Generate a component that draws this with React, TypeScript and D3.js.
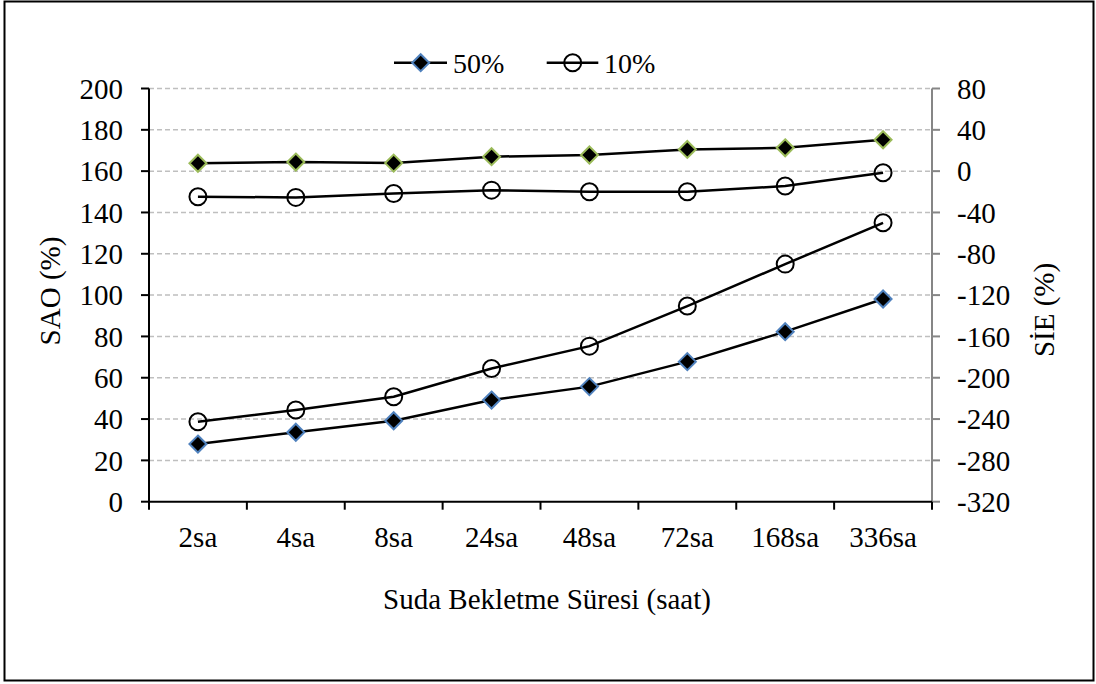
import React from "react";
import * as d3 from "d3";

const categories = ["2sa", "4sa", "8sa", "24sa", "48sa", "72sa", "168sa", "336sa"];
const sao50 = [27.9, 33.6, 39.2, 49.2, 55.7, 67.8, 82.3, 98.1];
const sao10 = [38.7, 44.4, 50.8, 64.5, 75.3, 94.7, 115.0, 135.0];
const sie50 = [7.6, 8.8, 7.8, 14.0, 15.6, 21.0, 22.6, 30.4];
const sie10 = [-24.8, -25.4, -21.6, -18.4, -20.0, -20.0, -14.4, -1.6];
const leftTicks = [0, 20, 40, 60, 80, 100, 120, 140, 160, 180, 200];
const rightTicks = [-320, -280, -240, -200, -160, -120, -80, -40, 0, 40, 80];
const legendLabels = ["50%", "10%"];

const W = 1096;
const H = 684;
const FONT = "Liberation Serif";
const FS = 29;

export default function App() {
  const x0 = 149, x1 = 932, yTop = 88.5, yBot = 501.7;
  const x = d3.scaleBand<string>().domain(categories).range([x0, x1]);
  const yL = d3.scaleLinear().domain([0, 200]).range([yBot, yTop]);
  const yR = d3.scaleLinear().domain([-320, 80]).range([yBot, yTop]);
  const cx = (c: string) => (x(c) as number) + x.bandwidth() / 2;
  const line = (vals: number[], sc: d3.ScaleLinear<number, number>) =>
    d3.line<number>().x((_, i) => cx(categories[i])).y((v) => sc(v))(vals) as string;
  const r = 8.5;
  const diamond = `M0,${-r}L${r},0L0,${r}L${-r},0Z`;

  const diamonds = (vals: number[], sc: d3.ScaleLinear<number, number>, stroke: string, key: string) =>
    vals.map((v, i) => (
      <path key={key + i} d={diamond} transform={`translate(${cx(categories[i])},${sc(v)})`} fill="#000" stroke={stroke} strokeWidth={2} />
    ));
  const circles = (vals: number[], sc: d3.ScaleLinear<number, number>, key: string) =>
    vals.map((v, i) => (
      <circle key={key + i} cx={cx(categories[i])} cy={sc(v)} r={8.5} fill="none" stroke="#000" strokeWidth={2} />
    ));

  return (
    <svg width={W} height={H} style={{ position: "absolute", left: 0, top: 0 }}>
      <rect x={0} y={0} width={W} height={H} fill="#fff" />
      <rect x={4.5} y={1.5} width={1089} height={679} fill="none" stroke="#000" strokeWidth={2} />
      {leftTicks.filter((t) => t > 0).map((t) => (
        <line key={"g" + t} x1={x0} x2={x1} y1={yL(t)} y2={yL(t)} stroke="#bfbfbf" strokeWidth={1.5} strokeDasharray="5,3" />
      ))}
      <g fontFamily={FONT} fontSize={FS} fill="#000">
        <line x1={x0} x2={x0} y1={yTop} y2={yBot} stroke="#000" strokeWidth={2} />
        {leftTicks.map((t) => (
          <g key={"l" + t}>
            <line x1={x0 - 8} x2={x0} y1={yL(t)} y2={yL(t)} stroke="#000" strokeWidth={2} />
            <text x={123} y={yL(t)} dy="0.35em" textAnchor="end">{t}</text>
          </g>
        ))}
        <line x1={x1} x2={x1} y1={yTop} y2={yBot} stroke="#868686" strokeWidth={2} />
        {rightTicks.map((t) => (
          <g key={"r" + t}>
            <line x1={x1} x2={x1 + 8} y1={yR(t)} y2={yR(t)} stroke="#868686" strokeWidth={2} />
            <text x={957} y={yR(t)} dy="0.35em" textAnchor="start">{t}</text>
          </g>
        ))}
        <line x1={x0} x2={x1} y1={yBot} y2={yBot} stroke="#000" strokeWidth={2} />
        {categories.map((c, i) => (
          <line key={"t" + i} x1={x(c) as number} x2={x(c) as number} y1={yBot} y2={yBot + 8} stroke="#000" strokeWidth={2} />
        ))}
        <line x1={x1} x2={x1} y1={yBot} y2={yBot + 8} stroke="#000" strokeWidth={2} />
        {categories.map((c) => (
          <text key={"c" + c} x={cx(c)} y={546.5} textAnchor="middle">{c}</text>
        ))}
        <text x={547} y={609} textAnchor="middle">Suda Bekletme Süresi (saat)</text>
        <text transform={`translate(60,291) rotate(-90)`} textAnchor="middle">SAO (%)</text>
        <text transform={`translate(1054,310) rotate(-90)`} textAnchor="middle">SİE (%)</text>
        <path d={line(sie50, yR)} fill="none" stroke="#000" strokeWidth={2.5} />
        <path d={line(sie10, yR)} fill="none" stroke="#000" strokeWidth={2.5} />
        <path d={line(sao50, yL)} fill="none" stroke="#000" strokeWidth={2.5} />
        <path d={line(sao10, yL)} fill="none" stroke="#000" strokeWidth={2.5} />
        {diamonds(sie50, yR, "#9bbb59", "d2")}
        {circles(sie10, yR, "c2")}
        {diamonds(sao50, yL, "#4f81bd", "d1")}
        {circles(sao10, yL, "c1")}
        <line x1={394} x2={447} y1={62.7} y2={62.7} stroke="#000" strokeWidth={2.5} />
        <path d={diamond} transform="translate(420.7,62.7)" fill="#000" stroke="#4f81bd" strokeWidth={2} />
        <text x={453} y={62.7} dy="0.35em" fontSize={28}>{legendLabels[0]}</text>
        <line x1={546.7} x2={598.3} y1={62.7} y2={62.7} stroke="#000" strokeWidth={2.5} />
        <circle cx={572.7} cy={62.7} r={8.5} fill="none" stroke="#000" strokeWidth={2} />
        <text x={604} y={62.7} dy="0.35em" fontSize={28}>{legendLabels[1]}</text>
      </g>
    </svg>
  );
}
